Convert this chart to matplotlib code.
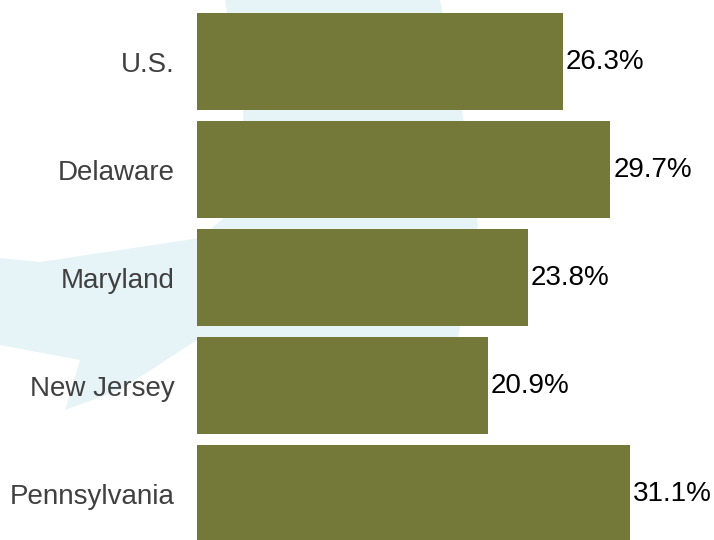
# Horizontal bar chart: share by state vs U.S.

import numpy as np
import matplotlib.pyplot as plt
from matplotlib.patches import Polygon

# Data
states = ["U.S.", "Delaware", "Maryland", "New Jersey", "Pennsylvania"]
values = [26.3, 29.7, 23.8, 20.9, 31.1]
value_labels = ["26.3%", "29.7%", "23.8%", "20.9%", "31.1%"]

plt.rcParams['font.family'] = ['Liberation Sans', 'DejaVu Sans']

W, H = 714, 540
fig = plt.figure(figsize=(W / 100, H / 100), dpi=100)
fig.patch.set_facecolor("white")

# faint logo watermark behind the chart (pixel coords, y from top)
logo = [(225, 0), (440, 0), (462, 110), (478, 225), (458, 338), (200, 338),
        (120, 390), (65, 410), (80, 360), (0, 345), (0, 258), (40, 262),
        (200, 238), (245, 200), (243, 110)]
logo = [(x / W, 1 - y / H) for x, y in logo]
fig.patches.append(Polygon(logo, closed=True, transform=fig.transFigure,
                           facecolor="#e6f4f8", edgecolor="none", zorder=-5))

left = 197 / W
ax = fig.add_axes([left, 0, 1 - left, 1])
ax.patch.set_alpha(0)

y = np.arange(len(states))
bars = ax.barh(y, values, height=0.9, color="#74793a")

for b, lab in zip(bars, value_labels):
    ax.text(b.get_width() + 0.2, b.get_y() + b.get_height() / 2, lab,
            va="center", ha="left", fontsize=20, color="black")

ax.set_yticks(y)
ax.set_yticklabels(states, fontsize=20, color="#404040")
ax.tick_params(axis="y", length=0, pad=16)
ax.set_xticks([])
ax.set_xlim(0, (W - 197) / 13.92)
ax.set_ylim(4.43, -0.57)
for s in ax.spines.values():
    s.set_visible(False)

fig.savefig("out.png", dpi=100, facecolor="white")
